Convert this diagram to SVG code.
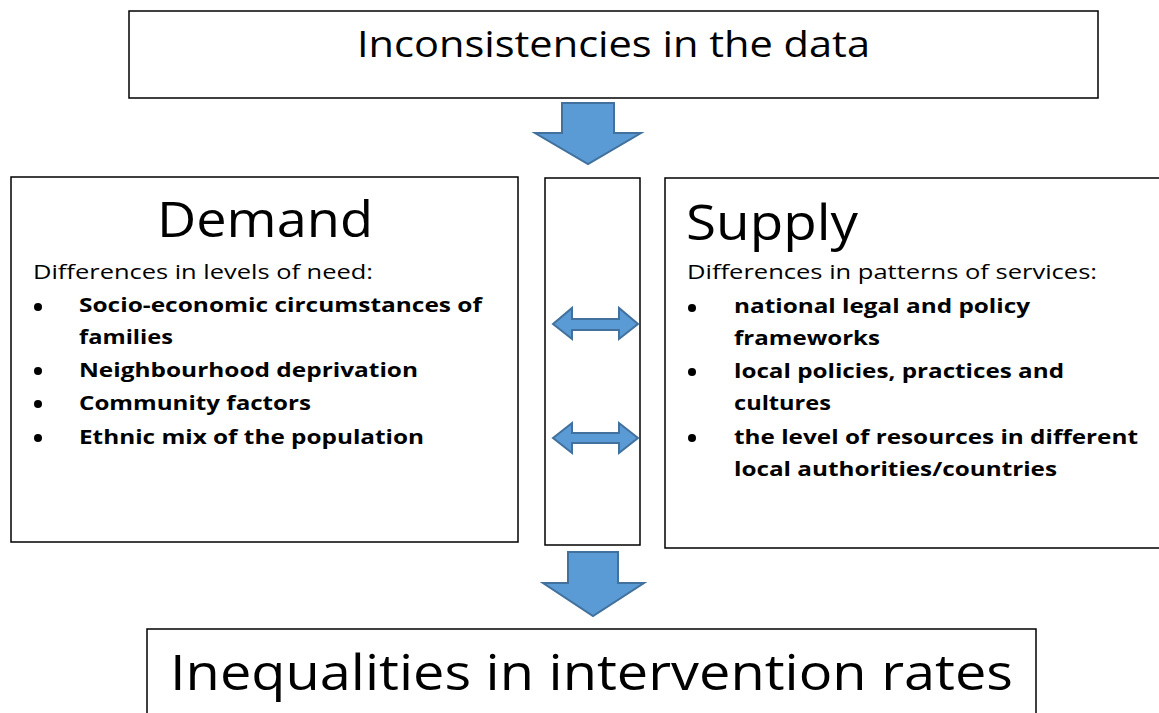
<svg xmlns="http://www.w3.org/2000/svg" width="1159" height="713" viewBox="0 0 1159 713">
<style>
.box{fill:#fff;stroke:#000;stroke-width:1.5}
.arr{fill:#5B9BD5;stroke:#41719C;stroke-width:2;stroke-linejoin:miter}
text{font-family:"Open Sans","Noto Sans","Liberation Sans",sans-serif;fill:#000}
.big{font-size:36px}
.title{font-size:50px}
.sub{font-size:20px}
.item{font-size:20px;font-weight:bold}
.huge{font-size:50px}
</style>
<rect width="1159" height="713" fill="#fff"/>
<g id="top">
<rect class="box" x="129" y="11" width="969" height="87"/>
<text class="big" x="357" y="57" textLength="513" lengthAdjust="spacingAndGlyphs">Inconsistencies in the data</text>
</g>
<g id="demand">
<rect class="box" x="11" y="177" width="507" height="365"/>
<text class="title" x="157" y="237" textLength="216" lengthAdjust="spacingAndGlyphs">Demand</text>
<text class="sub" x="33" y="279" textLength="340" lengthAdjust="spacingAndGlyphs">Differences in levels of need:</text>
<g class="item">
<circle cx="38" cy="307" r="4"/>
<circle cx="38" cy="371" r="4"/>
<circle cx="38" cy="404" r="4"/>
<circle cx="38" cy="438" r="4"/>
</g>
<text class="item" x="79" y="312" textLength="403" lengthAdjust="spacingAndGlyphs">Socio-economic circumstances of</text>
<text class="item" x="79" y="344" textLength="94" lengthAdjust="spacingAndGlyphs">families</text>
<text class="item" x="79" y="377" textLength="339" lengthAdjust="spacingAndGlyphs">Neighbourhood deprivation</text>
<text class="item" x="79" y="410" textLength="232" lengthAdjust="spacingAndGlyphs">Community factors</text>
<text class="item" x="79" y="444" textLength="345" lengthAdjust="spacingAndGlyphs">Ethnic mix of the population</text>
</g>
<g id="middle">
<rect class="box" x="545" y="178" width="95" height="367"/>
</g>
<g id="supply">
<rect class="box" x="665" y="178" width="500" height="370"/>
<text class="title" x="686" y="240" textLength="172" lengthAdjust="spacingAndGlyphs">Supply</text>
<text class="sub" x="687" y="279" textLength="410" lengthAdjust="spacingAndGlyphs">Differences in patterns of services:</text>
<circle cx="692" cy="308" r="4"/>
<circle cx="692" cy="372" r="4"/>
<circle cx="692" cy="438" r="4"/>
<text class="item" x="734" y="313" textLength="296" lengthAdjust="spacingAndGlyphs">national legal and policy</text>
<text class="item" x="734" y="345" textLength="146" lengthAdjust="spacingAndGlyphs">frameworks</text>
<text class="item" x="734" y="378" textLength="330" lengthAdjust="spacingAndGlyphs">local policies, practices and</text>
<text class="item" x="734" y="410" textLength="97" lengthAdjust="spacingAndGlyphs">cultures</text>
<text class="item" x="734" y="444" textLength="404" lengthAdjust="spacingAndGlyphs">the level of resources in different</text>
<text class="item" x="734" y="476" textLength="323" lengthAdjust="spacingAndGlyphs">local authorities/countries</text>
</g>
<g id="bottom">
<rect class="box" x="147" y="629" width="889" height="100"/>
<text class="huge" x="170" y="690" textLength="843" lengthAdjust="spacingAndGlyphs">Inequalities in intervention rates</text>
</g>
<g id="connectors">
<polygon class="arr" points="562,103 614,103 614,133 641,133 588,164 535,133 562,133"/>
<polygon class="arr" points="568,552 618,552 618,583 644,583 593,616 543,583 568,583"/>
<polygon class="arr" points="553,324 572,308 572,319 619,319 619,308 638,324 619,339 619,330 572,330 572,339"/>
<polygon class="arr" points="553,438 572,423 572,433 619,433 619,423 638,438 619,453 619,443 572,443 572,453"/>
</g>
</svg>
